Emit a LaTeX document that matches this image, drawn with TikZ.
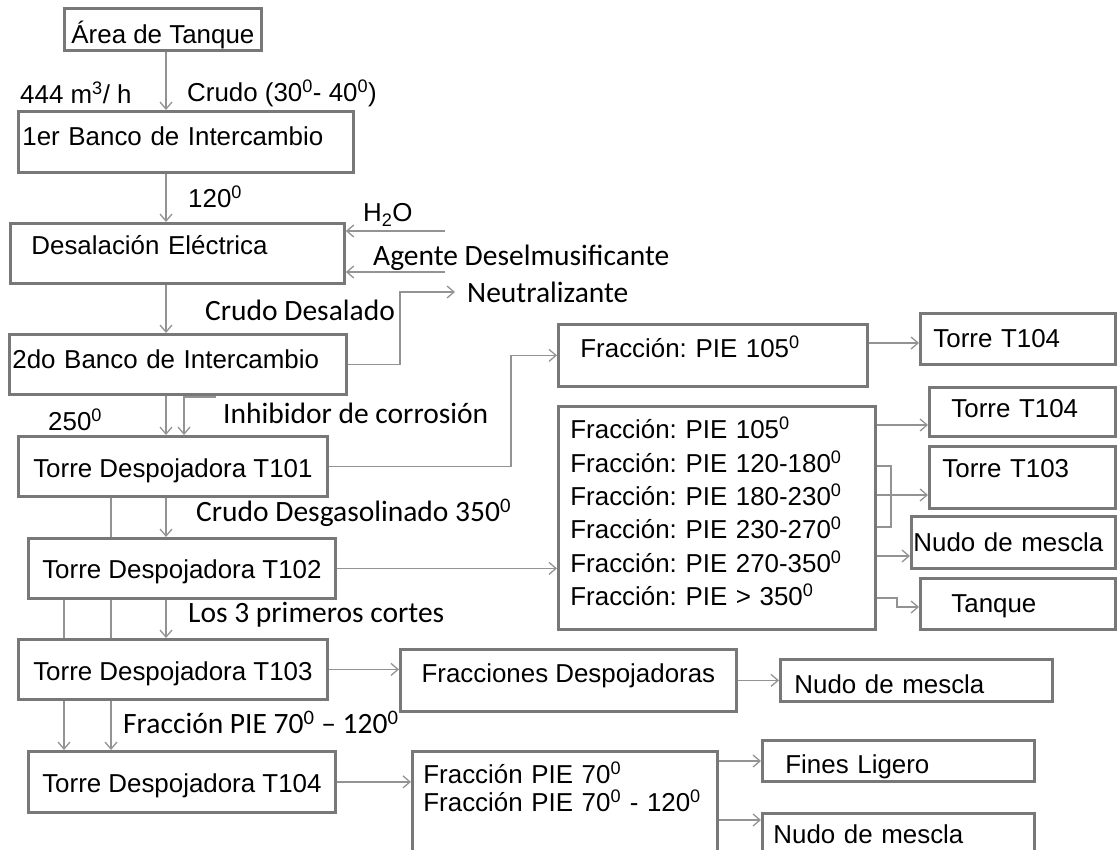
\documentclass[tikz,border=0pt]{standalone}
\usepackage{fontspec}
\setmainfont{Liberation Sans}
\newfontfamily\calibrifont{Carlito}
\usetikzlibrary{arrows.meta}
\definecolor{boxGray}{HTML}{787878}
\definecolor{arrGray}{HTML}{939393}
\frenchspacing
\newcommand{\sz}[1]{\textsuperscript{#1}}
\newcommand{\boxfont}{\fontsize{25.9}{31}\selectfont}
\newcommand{\notefont}{\calibrifont\fontsize{29.5}{35}\selectfont}

\begin{document}
\begin{tikzpicture}[x=1pt, y=-1pt,
  box/.style={draw=boxGray, line width=2.8pt, anchor=north west, inner sep=0pt, font=\boxfont},
  cbox/.style 2 args={box, minimum width=#1, minimum height=#2, align=center},
  lbox/.code n args={3}{\pgfmathsetmacro\txtw{#1-2*#3}%
    \pgfkeysalso{box, minimum width=#1, minimum height=#2, inner xsep=#3, text width=\txtw pt, align=left}},
  tv/.style 2 args={text height=#1, text depth=#2},
  tag/.style={anchor=west, inner sep=0pt, font=\boxfont},
  note/.style={anchor=west, inner sep=0pt, font=\notefont},
  pipe/.style={draw=arrGray, line width=1.3pt},
  arr/.style={pipe, -{Straight Barb[length=7pt, width=12pt]}}
]
  \useasboundingbox (0,0) rectangle (1117,850);
  \clip (0,0) rectangle (1117,850);

  % main column
  \node[cbox={197}{42}, tv={28pt}{0pt}] (area) at (63,7) {Área de Tanque};
  \node[lbox={335}{61}{4}, text depth=11pt] (b1) at (17,110) {1er Banco de Intercambio};
  \node[lbox={334}{60}{21}, text depth=17pt] (desal) at (9,222) {Desalación Eléctrica};
  \node[lbox={337}{60}{3}, text depth=10pt] (b2) at (8,333) {2do Banco de Intercambio};
  \node[cbox={309}{60}, tv={23pt}{0pt}] (t101) at (17,435) {Torre Despojadora T101};
  \node[cbox={307}{60}, tv={20.6pt}{0pt}] (t102) at (27,537) {Torre Despojadora T102};
  \node[cbox={309}{60}, tv={22.6pt}{0pt}] (t103) at (17,638) {Torre Despojadora T103};
  \node[cbox={307}{61}, tv={21.6pt}{0pt}] (t104) at (27,750) {Torre Despojadora T104};

  % fractions
  \node[lbox={309}{62}{22}, text depth=18pt] (f1) at (557,323) {Fracción: PIE 105\sz{0}};
  \node[lbox={195}{51}{13}] (t104a) at (919,312) {Torre T104};
  \node[lbox={317}{223}{12}, text depth=180pt, font=\fontsize{25.9}{33.4}\selectfont] (fbig) at (557,405) {
    Fracción: PIE 105\sz{0}\\
    Fracción: PIE 120-180\sz{0}\\
    Fracción: PIE 180-230\sz{0}\\
    Fracción: PIE 230-270\sz{0}\\
    Fracción: PIE 270-350\sz{0}\\
    Fracción: PIE > 350\sz{0}};
  \node[lbox={186}{49}{22}, text depth=7pt] (t104b) at (928,386) {Torre T104};
  \node[lbox={186}{62}{13}, text depth=18pt] (t103b) at (928,445) {Torre T103};
  \node[lbox={204}{52}{2}] (nudo1) at (910,515) {Nudo de mescla};
  \node[lbox={195}{51}{31}, text depth=0pt] (tanque) at (919,577) {Tanque};
  \node[cbox={336}{62}, text depth=14pt] (fdes) at (399,648) {Fracciones Despojadoras};
  \node[lbox={272}{42}{14}, tv={26.6pt}{0pt}] (nudo2) at (779,658) {Nudo de mescla};
  \node[lbox={305}{110}{11}, text depth=67pt, font=\fontsize{25.9}{28}\selectfont] (f70) at (411,750) {
    Fracción PIE 70\sz{0}\\
    Fracción PIE 70\sz{0} - 120\sz{0}};
  \node[lbox={272}{41}{23}, tv={25.6pt}{0pt}] (fines) at (761,739) {Fines Ligero};
  \node[lbox={272}{48}{11}, text depth=6pt] (nudo3) at (761,812) {Nudo de mescla};

  % stream labels
  \node[tag] (caudal) at (20,93) {444 m\sz{3}/ h};
  \node[tag] (crudo) at (187,93) {Crudo (30\sz{0}- 40\sz{0})};
  \node[tag] (temp1) at (188,197) {120\sz{0}};
  \node[tag] (agua) at (363,215) {H\textsubscript{2}O};
  \node[note] (agente) at (373,258) {Agente Deselmusificante};
  \node[note] (neutral) at (467,292) {Neutralizante};
  \node[note] (desalado) at (205,310) {Crudo Desalado};
  \node[tag] (temp2) at (48,420) {250\sz{0}};
  \node[note] (inhib) at (223,413) {Inhibidor de corrosión};
  \node[note] (desgas) at (196,513) {Crudo Desgasolinado 350\sz{0}};
  \node[note] (cortes) at (188,615) {Los 3 primeros cortes};
  \node[note] (frac70) at (123,722) {Fracción PIE 70\sz{0} – 120\sz{0}};

  % guide coordinates
  \coordinate (c1) at (166,0);
  \coordinate (c2) at (111,0);
  \coordinate (c3) at (64,0);
  \coordinate (c4) at (184,0);
  \coordinate (c5) at (400,0);
  \coordinate (c6) at (511,0);
  \coordinate (c7) at (891,0);
  \coordinate (c8) at (897,0);
  \coordinate (inh) at (216,397);
  \coordinate (h2o) at (445,231);
  \coordinate (agt) at (445,272);
  \coordinate (neut) at (455,292);
  \coordinate (r1) at (0,343);
  \coordinate (r2) at (0,425);
  \coordinate (r3) at (0,495);
  \coordinate (r4) at (0,466);
  \coordinate (r5) at (0,527);
  \coordinate (r6) at (0,556);
  \coordinate (r7) at (0,598);
  \coordinate (r8) at (0,607);
  \coordinate (r9) at (0,761);
  \coordinate (r10) at (0,820);

  % main flow
  \draw[arr] (area.south -| c1) -- (b1.north -| c1);
  \draw[arr] (b1.south -| c1) -- (desal.north -| c1);
  \draw[arr] (desal.south -| c1) -- (b2.north -| c1);
  \draw[arr] (b2.south -| c1) -- (t101.north -| c1);
  \draw[arr] (t101.south -| c1) -- (t102.north -| c1);
  \draw[pipe] (t101.south -| c2) -- (t102.north -| c2);
  \draw[arr] (t102.south -| c1) -- (t103.north -| c1);
  \draw[pipe] (t102.south -| c2) -- (t103.north -| c2);
  \draw[pipe] (t102.south -| c3) -- (t103.north -| c3);
  \draw[arr] (t103.south -| c2) -- (t104.north -| c2);
  \draw[arr] (t103.south -| c3) -- (t104.north -| c3);

  % side streams
  \draw[arr] (h2o) -- (h2o -| desal.east);
  \draw[arr] (agt) -- (agt -| desal.east);
  \draw[arr] (b2.east) -| (c5 |- neut) -- (neut);
  \draw[arr] (inh) -| (t101.north -| c4);

  % towers to fractions
  \draw[arr] (t101.east) -| (c6 |- f1.west) -- (f1.west);
  \draw[arr] (r1 -| f1.east) -- (r1 -| t104a.west);
  \draw[arr] (t102.east) -- (t102.east -| fbig.west);
  \draw[arr] (r2 -| fbig.east) -- (r2 -| t104b.west);
  \draw[pipe] (r4 -| fbig.east) -| (c7 |- r5) -- (r5 -| fbig.east);
  \draw[arr] (r3 -| fbig.east) -- (r3 -| t103b.west);
  \draw[arr] (r6 -| fbig.east) -- (r6 -| nudo1.west);
  \draw[arr] (r7 -| fbig.east) -| (c8 |- r8) -- (r8 -| tanque.west);
  \draw[arr] (t103.east) -- (t103.east -| fdes.west);
  \draw[arr] (fdes.east) -- (fdes.east -| nudo2.west);
  \draw[arr] (t104.east) -- (t104.east -| f70.west);
  \draw[arr] (r9 -| f70.east) -- (r9 -| fines.west);
  \draw[arr] (r10 -| f70.east) -- (r10 -| nudo3.west);
\end{tikzpicture}
\end{document}
